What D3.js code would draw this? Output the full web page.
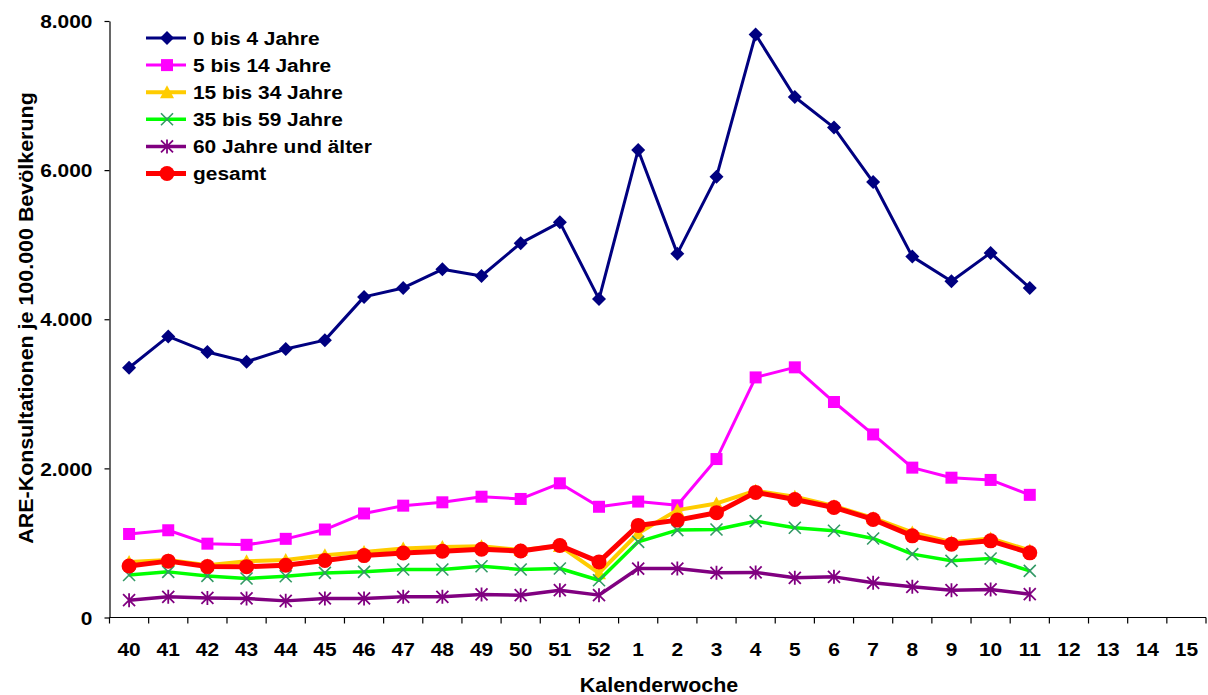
<!DOCTYPE html>
<html>
<head>
<meta charset="utf-8">
<script src="https://d3js.org/d3.v7.min.js"></script>
<title>ARE-Konsultationen</title>
<style>
  body { margin: 0; background: #fff; }
  svg text { font-family: "Liberation Sans", Arial, sans-serif; font-weight: bold; fill: #000; }
</style>
</head>
<body>
<svg id="chart" width="1208" height="695"></svg>
<script>
// Kalenderwochen (x-Kategorien)
const weeks = ["40","41","42","43","44","45","46","47","48","49","50","51","52",
               "1","2","3","4","5","6","7","8","9","10","11","12","13","14","15"];

// Werte je Altersgruppe, KW 40 bis 11
const age0to4 = [3350,3770,3560,3430,3600,3720,4300,4420,4670,4580,5020,5300,
                 4270,6270,4880,5910,7820,6980,6570,5840,4840,4510,4890,4420];
const age5to14 = [1120,1170,990,975,1055,1180,1395,1500,1545,1620,1590,1800,
                  1485,1555,1505,2125,3220,3355,2890,2455,2010,1875,1845,1645];
const age15to34 = [745,770,700,755,770,835,880,925,945,955,905,960,
                   595,1130,1440,1530,1700,1620,1495,1335,1140,1010,1060,900];
const age35to59 = [570,612,558,523,554,598,612,644,644,688,644,657,
                   500,1015,1172,1181,1292,1203,1163,1060,850,760,791,625];
const age60plus = [232,277,263,255,223,255,255,277,277,309,299,366,
                   300,657,657,599,605,532,545,465,411,367,376,313];
const total = [690,756,683,682,700,765,830,865,888,915,892,965,
               746,1235,1306,1404,1678,1583,1476,1315,1095,984,1028,867];

const yTicks = [0, 2000, 4000, 6000, 8000];

const series = [
  { name: "0 bis 4 Jahre", values: age0to4, color: "#000080", width: 3, marker: "diamond", mcolor: "#000080" },
  { name: "5 bis 14 Jahre", values: age5to14, color: "#FF00FF", width: 3, marker: "square", mcolor: "#FF00FF" },
  { name: "15 bis 34 Jahre", values: age15to34, color: "#FFCC00", width: 4, marker: "triangle", mcolor: "#FFCC00" },
  { name: "35 bis 59 Jahre", values: age35to59, color: "#00FF00", width: 3.5, marker: "x", mcolor: "#339966" },
  { name: "60 Jahre und älter", values: age60plus, color: "#800080", width: 3.5, marker: "star", mcolor: "#800080" },
  { name: "gesamt", values: total, color: "#FF0000", width: 5, marker: "circle", mcolor: "#FF0000" }
];

const de = d3.formatLocale({ decimal: ",", thousands: ".", grouping: [3], currency: ["", " €"] });
const fmt = de.format(",");

const svg = d3.select("#chart");
const plotLeft = 109.5, plotRight = 1206, plotTop = 21, plotBottom = 617.5;
const stretch = 1.1; // Schrift im Original etwas breiter

const x = d3.scaleBand().domain(weeks).range([plotLeft, plotRight]).padding(0);
const y = d3.scaleLinear().domain([0, 8000]).range([plotBottom, plotTop]);
const cx = w => x(w) + x.bandwidth() / 2;

// y-Achse
svg.append("g")
  .attr("transform", `translate(${plotLeft},0)`)
  .call(d3.axisLeft(y).tickValues(yTicks).tickFormat(fmt).tickSize(5).tickPadding(12).tickSizeOuter(0))
  .call(g => g.selectAll("text")
    .style("font-size", "19px").attr("dy", "0.35em")
    .attr("x", 0).attr("transform", `translate(-17,0) scale(${stretch},1)`))
  .call(g => g.selectAll("line,path").attr("stroke", "#000").attr("stroke-width", 1.2));

// x-Achse
const xg = svg.append("g").attr("transform", `translate(0,${plotBottom})`);
xg.append("line").attr("x1", plotLeft).attr("x2", plotRight).attr("stroke", "#000").attr("stroke-width", 1.2);
xg.selectAll("line.tick").data(weeks.concat(["end"])).enter().append("line")
  .attr("class", "tick")
  .attr("x1", d => d === "end" ? plotRight : x(d))
  .attr("x2", d => d === "end" ? plotRight : x(d))
  .attr("y1", 0).attr("y2", 6)
  .attr("stroke", "#000").attr("stroke-width", 1.2);
xg.selectAll("text").data(weeks).enter().append("text")
  .attr("transform", d => `translate(${cx(d)},38) scale(${stretch},1)`)
  .attr("text-anchor", "middle")
  .style("font-size", "19px")
  .text(d => d);

// Achsentitel
svg.append("text")
  .attr("transform", `translate(659,692) scale(${stretch},1)`)
  .attr("text-anchor", "middle")
  .style("font-size", "19.5px")
  .text("Kalenderwoche");
svg.append("text")
  .attr("transform", `translate(33,318) rotate(-90) scale(${stretch},1)`)
  .attr("text-anchor", "middle")
  .style("font-size", "19.5px")
  .text("ARE-Konsultationen je 100.000 Bevölkerung");

function drawMarker(g, type, color) {
  if (type === "diamond") {
    g.append("path").attr("d", "M0,-7L7,0L0,7L-7,0Z").attr("fill", color);
  } else if (type === "square") {
    g.append("rect").attr("x", -6).attr("y", -6).attr("width", 12).attr("height", 12).attr("fill", color);
  } else if (type === "triangle") {
    g.append("path").attr("d", "M0,-7L7,6L-7,6Z").attr("fill", color);
  } else if (type === "circle") {
    g.append("circle").attr("r", 7.5).attr("fill", color);
  } else if (type === "x") {
    g.append("path").attr("d", "M-6,-6L6,6M-6,6L6,-6").attr("stroke", color).attr("stroke-width", 1.6).attr("fill", "none");
  } else if (type === "star") {
    g.append("path").attr("d", "M-6,-6L6,6M-6,6L6,-6M0,-7L0,7").attr("stroke", color).attr("stroke-width", 1.8).attr("fill", "none");
  }
}

const line = d3.line().x((d, i) => cx(weeks[i])).y(d => y(d));

series.forEach(s => {
  svg.append("path")
    .datum(s.values)
    .attr("d", line)
    .attr("fill", "none")
    .attr("stroke", s.color)
    .attr("stroke-width", s.width)
    .attr("stroke-linejoin", "round");
  s.values.forEach((v, i) => {
    const g = svg.append("g").attr("transform", `translate(${cx(weeks[i])},${y(v)})`);
    drawMarker(g, s.marker, s.mcolor);
  });
});

// Legende
const legend = svg.append("g").attr("transform", "translate(146,38)");
series.forEach((s, i) => {
  const row = legend.append("g").attr("transform", `translate(0,${i * 27.1})`);
  row.append("line").attr("x1", 0).attr("x2", 40).attr("stroke", s.color).attr("stroke-width", s.width);
  drawMarker(row.append("g").attr("transform", "translate(21,0)"), s.marker, s.mcolor);
  row.append("text").attr("transform", `translate(47,0) scale(${stretch},1)`)
    .attr("dy", "0.35em").style("font-size", "19px").text(s.name);
});
</script>
</body>
</html>
